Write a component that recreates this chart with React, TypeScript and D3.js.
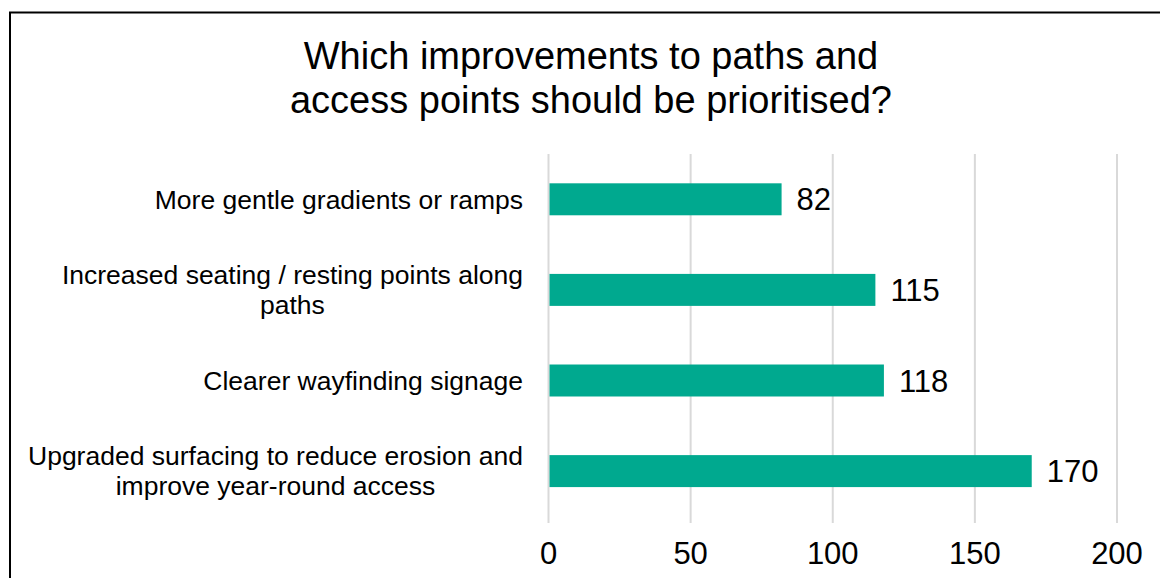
import React, { useEffect, useRef } from "react";
import * as d3 from "d3";

const title = ["Which improvements to paths and", "access points should be prioritised?"];
const categories = [
  "More gentle gradients or ramps",
  "Increased seating / resting points along paths",
  "Clearer wayfinding signage",
  "Upgraded surfacing to reduce erosion and improve year-round access",
];
const categoryLines = [
  ["More gentle gradients or ramps"],
  ["Increased seating / resting points along", "paths"],
  ["Clearer wayfinding signage"],
  ["Upgraded surfacing to reduce erosion and", "improve year-round access"],
];
const values = [82, 115, 118, 170];
const xTicks = [0, 50, 100, 150, 200];

const W = 1160;
const H = 578;
const FONT = "'Liberation Sans', Arial, sans-serif";

export default function App() {
  const ref = useRef<SVGSVGElement | null>(null);

  useEffect(() => {
    const svg = d3.select(ref.current);
    svg.selectAll("*").remove();

    svg.append("rect").attr("width", W).attr("height", H).attr("fill", "#fff");
    svg
      .append("rect")
      .attr("x", 10)
      .attr("y", 12.5)
      .attr("width", W + 100)
      .attr("height", H + 100)
      .attr("fill", "none")
      .attr("stroke", "#000")
      .attr("stroke-width", 2);

    const t = svg
      .append("text")
      .attr("text-anchor", "middle")
      .attr("font-family", FONT)
      .attr("font-size", 38)
      .attr("fill", "#000");
    title.forEach((line, i) => {
      t.append("tspan").attr("x", 591).attr("y", 69 + i * 44).text(line);
    });

    const x = d3.scaleLinear().domain([0, 200]).range([548.5, 1117]);
    const y = d3
      .scaleBand<string>()
      .domain(categories)
      .range([154, 516.4])
      .paddingInner(0.647)
      .paddingOuter(0.3235);

    const g = svg.append("g");
    g.selectAll("line.grid")
      .data(xTicks)
      .join("line")
      .attr("x1", (d) => x(d))
      .attr("x2", (d) => x(d))
      .attr("y1", 154)
      .attr("y2", 523)
      .attr("stroke", "#d9d9d9")
      .attr("stroke-width", 2);

    g.selectAll("rect.bar")
      .data(values)
      .join("rect")
      .attr("x", x(0) + 1)
      .attr("y", (_, i) => y(categories[i])!)
      .attr("width", (d) => x(d) - x(0) - 1)
      .attr("height", y.bandwidth())
      .attr("fill", "#00a98f");

    g.selectAll("text.val")
      .data(values)
      .join("text")
      .attr("x", (d) => x(d) + 15)
      .attr("y", (_, i) => y(categories[i])! + y.bandwidth() / 2)
      .attr("dy", "0.36em")
      .attr("font-family", FONT)
      .attr("font-size", 31)
      .attr("fill", "#000")
      .text((d) => String(d));

    g.selectAll("text.tick")
      .data(xTicks)
      .join("text")
      .attr("x", (d) => x(d))
      .attr("y", 564)
      .attr("text-anchor", "middle")
      .attr("font-family", FONT)
      .attr("font-size", 31)
      .attr("fill", "#000")
      .text((d) => String(d));

    const rightEdge = 523;
    const lineH = 30;
    categoryLines.forEach((lines, i) => {
      const cy = y(categories[i])! + y.bandwidth() / 2;
      const txt = g
        .append("text")
        .attr("font-family", FONT)
        .attr("font-size", 26.5)
        .attr("fill", "#000")
        .attr("text-anchor", "middle");
      const spans = lines.map((ln, j) =>
        txt
          .append("tspan")
          .attr("y", cy + (j - (lines.length - 1) / 2) * lineH)
          .attr("dy", "0.35em")
          .text(ln)
      );
      let maxW = 0;
      spans.forEach((s) => {
        const w = (s.node() as SVGTSpanElement).getComputedTextLength();
        if (w > maxW) maxW = w;
      });
      spans.forEach((s) => s.attr("x", rightEdge - maxW / 2));
    });
  }, []);

  return (
    <svg
      ref={ref}
      width={W}
      height={H}
      style={{ position: "absolute", left: 0, top: 0, display: "block" }}
    />
  );
}
